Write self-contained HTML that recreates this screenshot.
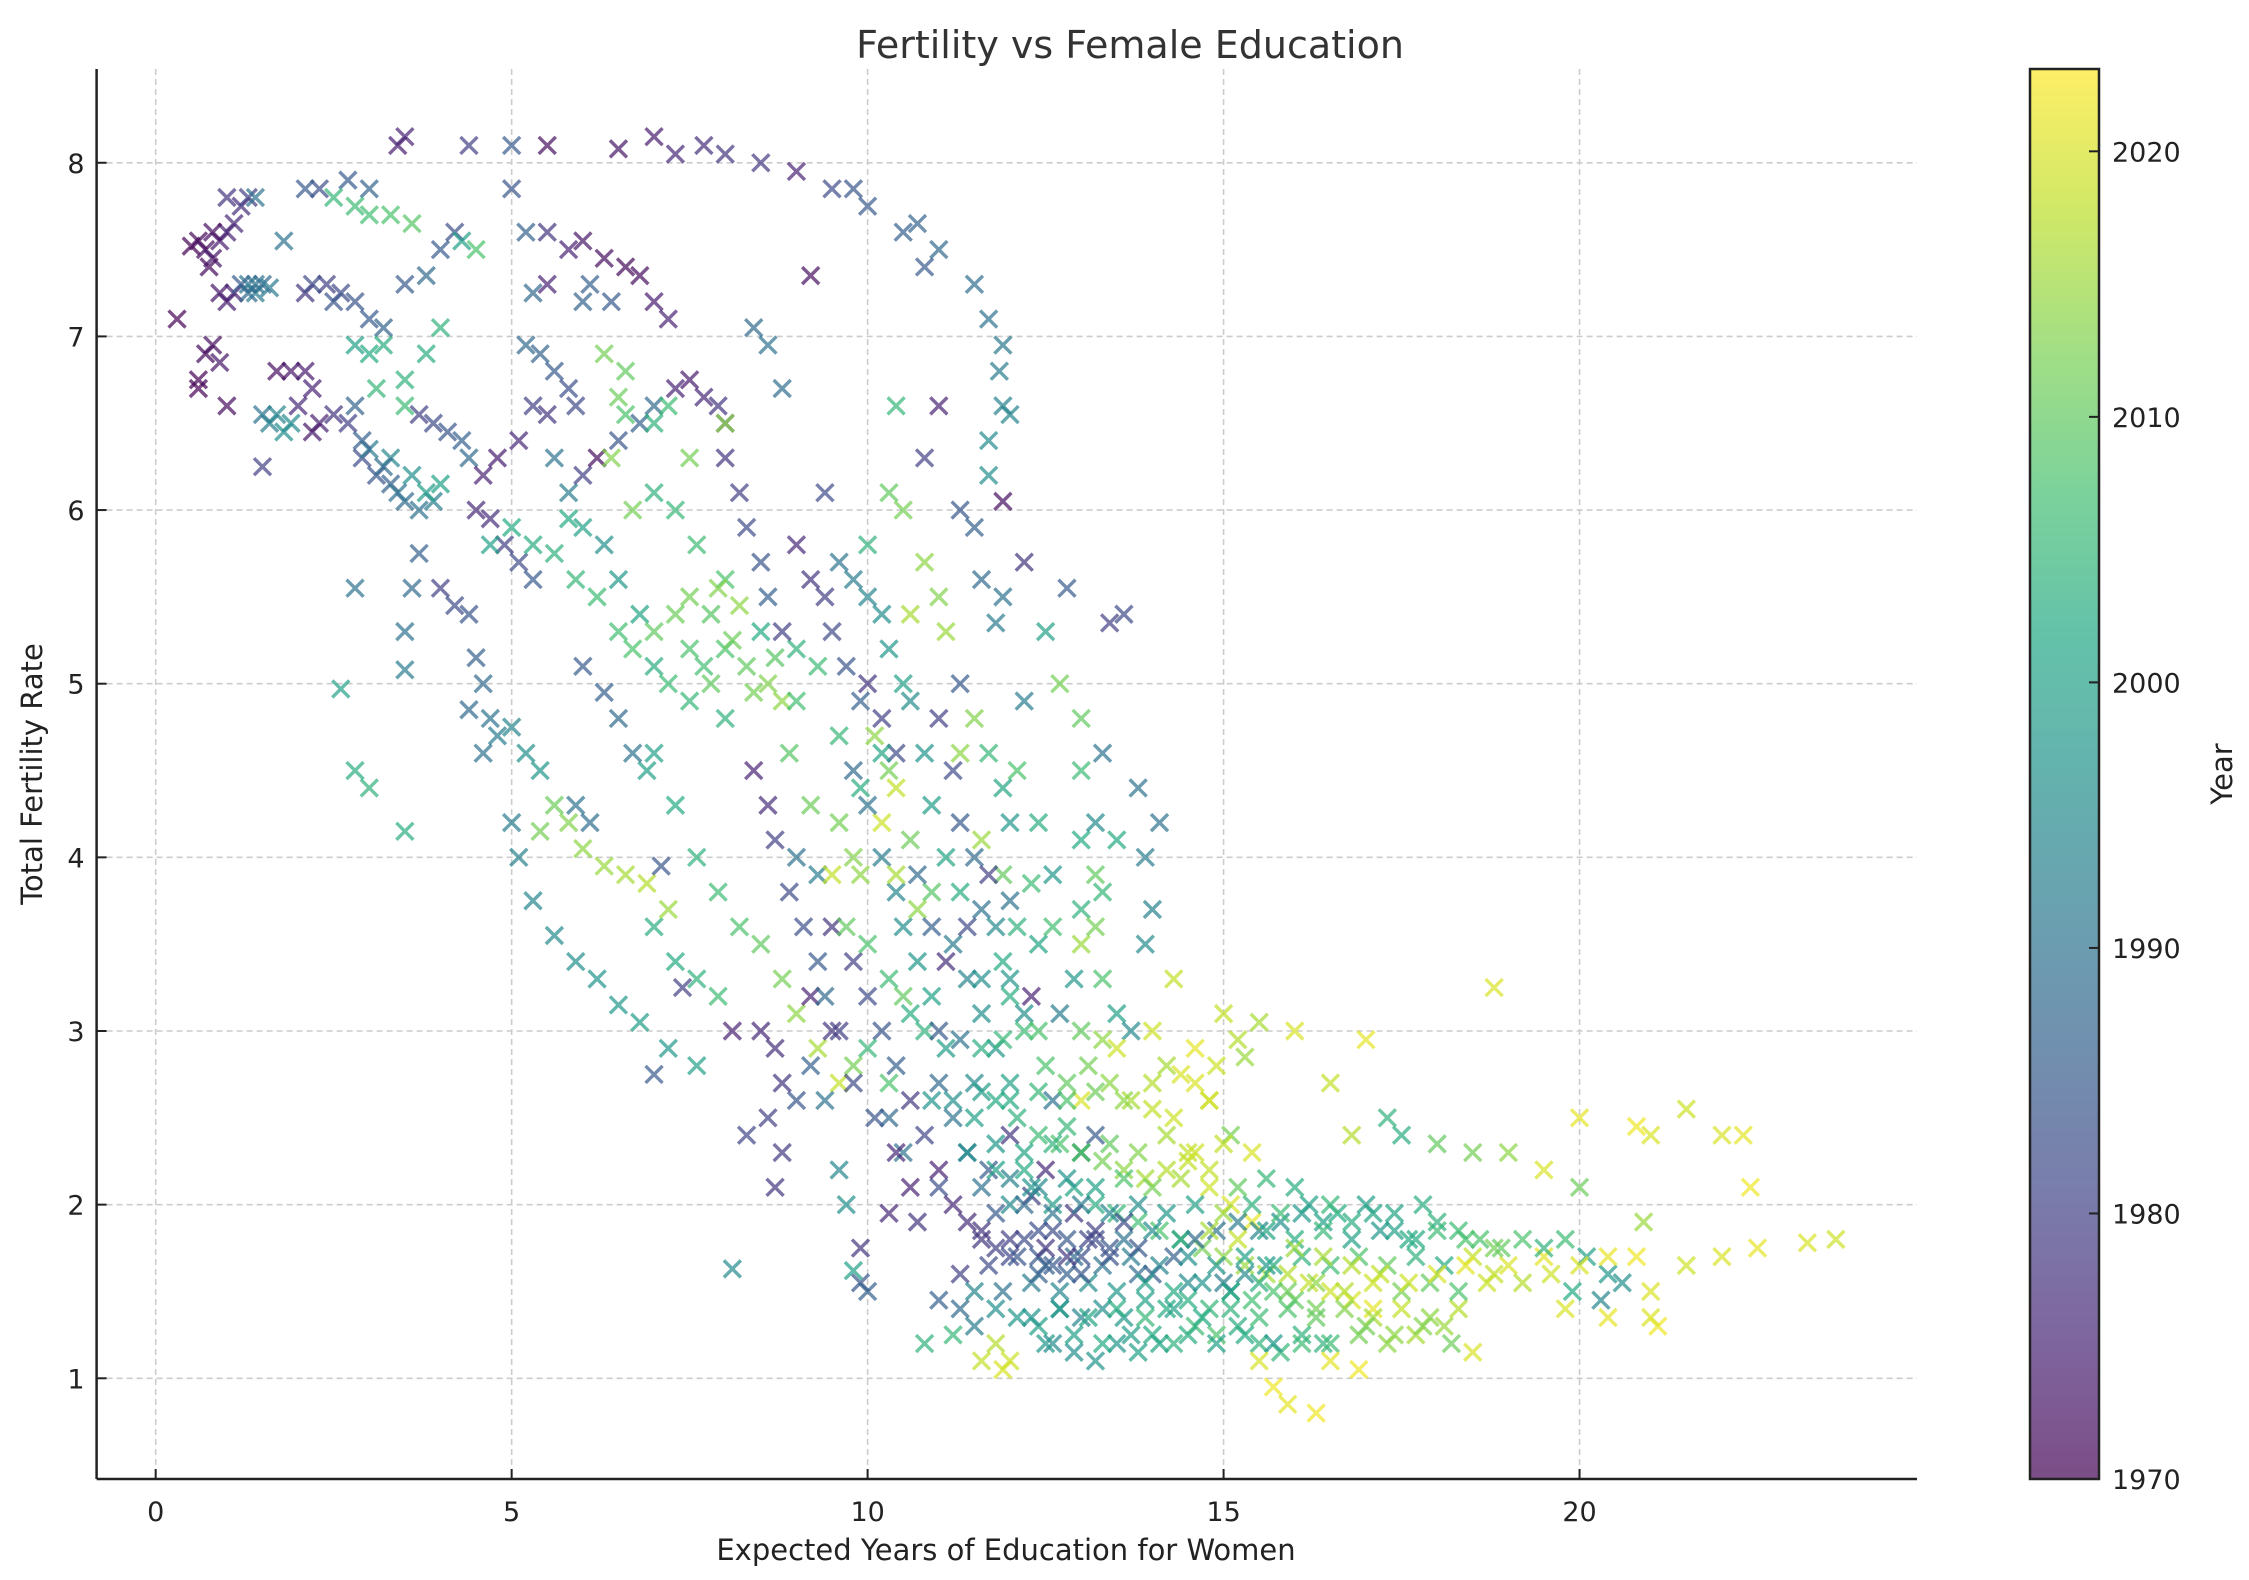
<!DOCTYPE html>
<html><head><meta charset="utf-8">
<style>
html,body{margin:0;padding:0;background:#fff;}
svg{display:block;font-family:"DejaVu Sans","Liberation Sans",sans-serif;}
</style></head>
<body>
<svg id="chart" width="2249" height="1580" viewBox="0 0 2249 1580" xmlns="http://www.w3.org/2000/svg">
<defs>
<linearGradient id="viridis" x1="0" y1="1" x2="0" y2="0">
<stop offset="0" stop-color="#440154"/><stop offset="0.1" stop-color="#482475"/><stop offset="0.2" stop-color="#414487"/><stop offset="0.3" stop-color="#355f8d"/><stop offset="0.4" stop-color="#2a788e"/><stop offset="0.5" stop-color="#21918c"/><stop offset="0.6" stop-color="#22a884"/><stop offset="0.7" stop-color="#44bf70"/><stop offset="0.8" stop-color="#7ad151"/><stop offset="0.9" stop-color="#bddf26"/><stop offset="1" stop-color="#fde725"/>
</linearGradient>
</defs>
<rect width="2249" height="1580" fill="#fff"/>
<g id="grid"></g>
<g id="marks"></g>
<g id="axes"></g>
<text x="1130" y="58" font-size="38" text-anchor="middle" fill="#333">Fertility vs Female Education</text>
<text x="1006" y="1560" font-size="29" text-anchor="middle" fill="#222">Expected Years of Education for Women</text>
<text x="0" y="0" font-size="29" text-anchor="middle" fill="#222" transform="translate(42,774) rotate(-90)">Total Fertility Rate</text>
<g id="colorbar">
<rect x="2030" y="69" width="69" height="1410" fill="url(#viridis)" fill-opacity="0.7" stroke="#222" stroke-width="2.5"/>
</g>
<text x="0" y="0" font-size="29" text-anchor="middle" fill="#222" transform="translate(2232,774) rotate(-90)">Year</text>
</svg>
<script>
const xTicks = [0, 5, 10, 15, 20];
const yTicks = [1, 2, 3, 4, 5, 6, 7, 8];
const yearTicks = [1970, 1980, 1990, 2000, 2010, 2020];

const upperLeftPoints = [
[0.5,7.52,1970],[0.6,7.55,1971],[0.7,7.5,1972],[0.8,7.45,1973],[0.9,7.55,1974],[1.0,7.6,1975],[1.1,7.65,1976],[1.2,7.75,1977],[1.3,7.8,1980],[1.0,7.8,1978],[0.8,7.6,1972],[0.75,7.4,1971],
[0.3,7.1,1970],[0.9,7.25,1973],[1.0,7.2,1974],[1.1,7.25,1975],[1.2,7.3,1985],[1.3,7.3,1990],[1.4,7.25,1992],[1.5,7.3,1988],[1.4,7.8,1990],
[0.6,6.75,1970],[0.7,6.9,1971],[0.8,6.95,1972],[0.9,6.85,1973],[1.0,6.6,1972],[0.6,6.7,1970],
[1.7,6.8,1972],[1.9,6.8,1973],[2.1,6.8,1974],[2.2,6.7,1975],[2.0,6.6,1976],[2.3,6.5,1975],[2.2,6.45,1973],
[1.5,6.55,1990],[1.6,6.5,1992],[1.7,6.55,1994],[1.8,6.45,1996],[1.5,6.25,1980],
[2.1,7.25,1978],[2.4,7.3,1980],[2.6,7.25,1982],[2.8,7.2,1984],[3.0,7.1,1985],[3.2,7.05,1987],[3.5,7.3,1985],[3.8,7.35,1988],
[2.3,7.85,1983],[2.7,7.9,1985],[3.0,7.85,1987],[1.8,7.55,1990],[2.1,7.85,1985],
[2.5,7.8,2005],[2.8,7.75,2006],[3.0,7.7,2007],[3.3,7.7,2008],[3.6,7.65,2009],[2.8,6.95,2000],[3.0,6.9,2002],[3.2,6.95,2003],[3.5,6.75,2004],[3.1,6.7,2005],[3.5,6.6,2006],[3.8,6.9,2003],[4.0,7.05,2004],
[2.5,6.55,1978],[2.7,6.5,1980],[2.9,6.3,1982],[3.1,6.2,1984],[3.3,6.15,1986],[3.5,6.05,1988],[3.7,6.0,1990],[3.9,6.05,1992],
[2.8,6.6,1987],[3.0,6.35,1992],[3.3,6.3,1994],[3.6,6.2,1996],[4.0,6.15,2000],[3.8,6.1,1999],
[3.7,6.55,1980],[3.9,6.5,1982],[4.1,6.45,1984],[4.3,6.4,1986],[4.4,6.3,1988],
[4.2,7.6,1983],[4.0,7.5,1985],[4.3,7.55,2000],[4.5,7.5,2008],
[2.6,4.97,2000],[2.8,5.55,1990],[2.8,4.5,2003],[3.0,4.4,2004],[3.5,4.15,2003],[3.5,5.3,1990],[3.6,5.55,1988],[3.7,5.75,1986],[3.5,5.08,1992],
[1.3,7.25,1988],[1.4,7.3,1990],[1.6,7.28,1991],[2.2,7.3,1982],[2.5,7.2,1984],[2.9,6.4,1986],[3.2,6.25,1988],[3.4,6.1,1990],[1.9,6.5,1995]
];

const topArcPoints = [
[3.4,8.1,1974],[3.5,8.15,1975],[4.4,8.1,1980],[5.0,8.1,1985],[5.5,8.1,1972],[6.5,8.08,1973],[7.0,8.15,1974],[7.3,8.05,1976],[7.7,8.1,1977],[8.0,8.05,1978],[8.5,8.0,1979],[9.0,7.95,1975],
[9.5,7.85,1982],[9.8,7.85,1984],[10.0,7.75,1985],[10.5,7.6,1986],[10.7,7.65,1987],[11.0,7.5,1988],[10.8,7.4,1985],[11.5,7.3,1989],[11.7,7.1,1990],[11.9,6.95,1991],[11.85,6.8,1992],[11.9,6.6,1993],[12.0,6.55,1994],[11.7,6.4,1995],[11.7,6.2,1996],[11.9,6.05,1972],[11.9,5.5,1990],[12.2,5.7,1978],
[9.2,7.35,1972],[8.4,7.05,1988],[8.6,6.95,1990],[8.8,6.7,1989],[9.4,6.1,1982],
[5.0,7.85,1984],[5.2,7.6,1986],[5.5,7.6,1978],[5.8,7.5,1975],[6.0,7.55,1973],[6.3,7.45,1972],[6.6,7.4,1971],[6.8,7.35,1972],[7.0,7.2,1974],[7.2,7.1,1975],[6.4,7.2,1985],[6.1,7.3,1986],[6.0,7.2,1987],[5.3,7.25,1988],[5.5,7.3,1975]
];

const middlePoints = [
[5.2,6.95,1988],[5.4,6.9,1987],[5.6,6.8,1985],[5.8,6.7,1983],[5.9,6.6,1982],[5.3,6.6,1980],[5.5,6.55,1978],[5.1,6.4,1976],[4.8,6.3,1974],[4.6,6.2,1975],[4.5,6.0,1976],[4.7,5.95,1977],[4.9,5.8,1980],[5.1,5.7,1982],[5.3,5.6,1985],
[5.6,6.3,1990],[5.8,6.1,1992],[6.0,6.2,1980],[6.2,6.3,1972],[6.5,6.4,1984],[6.8,6.5,1986],[7.0,6.6,1988],[7.3,6.7,1975],[7.5,6.75,1974],[7.7,6.65,1976],[7.9,6.6,1978],[8.0,6.5,1980],
[6.6,6.8,2010],[6.3,6.9,2012],[6.5,6.65,2011],[6.4,6.3,2013],[6.7,6.0,2012],[6.6,6.55,2008],[7.2,6.6,2006],[7.0,6.5,2004],
[4.7,5.8,2000],[5.0,5.9,2002],[5.3,5.8,2003],[5.6,5.75,2004],[5.9,5.6,2005],[6.2,5.5,2006],[6.5,5.3,2007],[6.7,5.2,2008],[7.0,5.1,2003],[6.8,5.4,2001],[6.5,5.6,1998],[6.3,5.8,1996],[6.0,5.9,2000],[5.8,5.95,2002],
[4.0,5.55,1980],[4.2,5.45,1982],[4.4,5.4,1984],[4.5,5.15,1986],[4.6,5.0,1988],[4.7,4.8,1990],[4.8,4.7,1992],[5.0,4.75,1994],[5.2,4.6,1996],[5.4,4.5,1998],[5.6,4.3,2011],[5.8,4.2,2013],[6.0,4.05,2014],[6.3,3.95,2015],[6.6,3.9,2016],[6.9,3.85,2017],[5.4,4.15,2012],
[4.4,4.85,1988],[4.6,4.6,1990],[5.0,4.2,1992],[5.1,4.0,1993],[5.3,3.75,1994],[5.6,3.55,1995],[5.9,3.4,1996],[6.2,3.3,1997],[6.5,3.15,1998],[6.8,3.05,1999],
[5.9,4.3,1990],[6.1,4.2,1989],[6.0,5.1,1985],[6.3,4.95,1986],[6.5,4.8,1988],[6.7,4.6,1990],[6.9,4.5,2000],
[7.0,5.3,2010],[7.3,5.4,2011],[7.5,5.5,2012],[7.8,5.4,2009],[8.0,5.2,2008],[8.3,5.1,2010],[8.6,5.0,2013],[8.8,4.9,2014],[7.7,5.1,2007],[7.2,5.0,2006],[7.5,4.9,2005],[8.0,4.8,2004],[8.5,5.3,2002],[9.0,5.2,2004],[8.0,5.6,2008],[7.6,5.8,2006],[7.3,6.0,2005],[7.0,6.1,2004],[7.5,6.3,2012],[8.0,6.5,2014],
[7.0,4.6,2000],[7.3,4.3,2002],[7.6,4.0,2004],[7.9,3.8,2006],[8.2,3.6,2008],[8.5,3.5,2010],[8.8,3.3,2012],[9.0,3.1,2014],[9.3,2.9,2016],[9.6,2.7,2018],
[7.0,3.6,2003],[7.3,3.4,2002],[7.6,3.3,2004],[7.9,3.2,2006],[7.2,2.9,1998],[7.6,2.8,2000],[7.1,3.95,1984],[7.2,3.7,2015],[7.0,2.75,1985],[7.4,3.25,1980],[8.1,1.63,1995],
[8.1,3.0,1975],[8.5,3.0,1976],[8.7,2.9,1977],[8.8,2.7,1978],[8.6,2.5,1980],[8.8,2.3,1979],[8.7,2.1,1978],[8.3,2.4,1981],[9.0,2.6,1984],[9.2,3.2,1975],[9.5,3.0,1978],[9.4,2.6,1990],[9.6,2.2,1994],[9.7,2.0,1996]
];

const centerPoints = [
[8.0,6.3,1978],[8.2,6.1,1980],[8.3,5.9,1982],[8.5,5.7,1984],[8.6,5.5,1986],[8.8,5.3,1980],[9.0,5.8,1976],[9.2,5.6,1978],[9.4,5.5,1980],[9.5,5.3,1982],[9.7,5.1,1984],[9.9,4.9,1986],[10.0,5.0,1978],[10.2,4.8,1980],[10.4,4.6,1982],
[8.4,4.5,1975],[8.6,4.3,1977],[8.7,4.1,1980],[8.9,3.8,1982],[9.1,3.6,1983],[9.3,3.4,1985],[9.0,4.0,1990],[9.3,3.9,1992],[9.6,4.2,2012],[9.8,4.0,2013],[9.9,3.9,2014],
[9.6,5.7,1990],[9.8,5.6,1992],[10.0,5.5,1994],[10.2,5.4,1996],[10.3,5.2,1998],[10.5,5.0,2000],[10.0,5.8,2004],[10.3,6.1,2010],[10.5,6.0,2012],[10.8,5.7,2014],[11.0,5.5,2013],[11.1,5.3,2015],[10.6,5.4,2016],[10.4,4.4,2018],[10.2,4.2,2019],
[10.4,6.6,2005],[11.0,6.6,1975],[10.8,6.3,1980],[11.3,6.0,1984],[11.5,5.9,1986],[11.6,5.6,1988],[11.8,5.35,1992],
[9.8,4.5,1988],[10.0,4.3,1990],[10.2,4.0,1992],[10.4,3.8,1994],[10.5,3.6,1996],[10.7,3.4,1998],[10.9,3.2,2000],
[9.5,3.6,1978],[9.8,3.4,1980],[10.0,3.2,1982],[10.2,3.0,1984],[10.4,2.8,1986],[10.3,2.5,1988],[10.5,2.3,1990],[10.6,2.1,1975],[10.7,1.9,1978],[10.3,1.95,1976],[9.9,1.55,1984],[10.0,1.5,1986],[9.9,1.75,1978],[9.8,1.62,2000],
[11.0,4.8,1980],[11.2,4.5,1982],[11.3,4.2,1985],[11.5,4.0,1988],[11.6,3.7,1990],[11.2,3.5,1992],[11.4,3.3,1994],[11.6,3.1,1996],[11.8,2.9,1998],[12.0,2.7,2000],[11.3,4.6,2014],[11.6,4.1,2015],[11.9,3.9,2010],[12.1,4.5,2008],[12.2,4.9,1992],[12.4,4.2,2003],[12.5,5.3,2000],[12.7,5.0,2012],[13.0,4.8,2010],[13.0,4.5,2006],[13.3,4.6,1990],[13.2,4.2,1995],[13.5,4.1,2002],[13.3,3.8,2005],[13.0,3.7,2004],[12.8,5.55,1985],[13.4,5.35,1980],[13.6,5.4,1982],[13.8,4.4,1990],[13.9,4.0,1992],[14.1,4.2,1990],[14.0,3.7,1993],[13.9,3.5,1995],[14.3,3.3,2018],
[11.0,2.7,1988],[11.2,2.5,1990],[11.4,2.3,1992],[11.7,2.2,1985],[11.5,2.7,1995],[11.9,3.4,2002],[12.1,3.6,2004],[12.4,3.5,2001],
[10.0,2.9,2005],[10.3,2.7,2008],[9.8,2.8,2012],[10.5,3.2,2010],[10.8,3.0,2004],[10.9,2.6,1997],[11.1,2.9,1999],
[10.6,4.9,1995],[10.8,4.6,1997],[10.9,4.3,1999],[11.1,4.0,2001],[11.3,3.8,2003],[10.9,3.8,2009],[10.6,4.1,2011],[10.3,4.5,2012],[10.1,4.7,2014],
[11.3,5.0,1985],[11.5,4.8,2013],[11.7,4.6,2005],[11.9,4.4,2001],[12.0,4.2,1998],[11.8,3.6,1995],[12.0,3.3,1998],[12.2,3.1,1996],
[7.5,5.2,2008],[7.8,5.0,2010],[8.1,5.25,2011],[8.4,4.95,2012],[8.7,5.15,2009],[9.0,4.9,2007],[9.3,5.1,2006],[7.9,5.55,2013],[8.2,5.45,2014],[9.6,4.7,2005],[9.9,4.4,2003],[10.2,4.6,2001],[10.4,3.9,2016],[10.7,3.7,2014],[9.5,3.9,2018],[9.7,3.6,2010],[10.0,3.5,2008],[10.3,3.3,2006],[10.6,3.1,2003],[9.2,4.3,2011],[8.9,4.6,2009],
[9.6,3.0,1980],[9.8,2.7,1982],[10.1,2.5,1984],[10.4,2.3,1976],[10.6,2.6,1979],[10.8,2.4,1981],[11.0,2.1,1983],[10.9,3.6,1986],[10.7,3.9,1988],[11.1,3.4,1977],[9.4,3.2,1988],[9.2,2.8,1986]
];

const lowerMassPoints = [
[11.0,2.2,1975],[11.2,2.0,1976],[11.4,1.9,1977],[11.6,1.8,1978],[11.8,1.75,1980],[12.0,1.7,1981],[12.2,1.8,1982],[12.4,1.7,1984],[12.6,1.65,1985],[12.8,1.6,1986],[13.0,1.7,1983],[13.2,1.8,1982],[13.4,1.75,1984],[12.3,2.05,1980],[12.6,1.85,1982],[12.9,1.95,1978],[12.5,2.2,1976],[12.0,2.4,1978],[12.3,3.2,1975],[12.6,2.6,1990],[13.0,2.3,1974],[13.2,2.4,1985],
[11.0,1.45,1986],[11.3,1.4,1988],[11.5,1.3,1992],[10.8,1.2,2004],[11.2,1.25,2005],[11.6,1.1,2018],[11.9,1.05,2020],[12.0,1.1,2019],[11.8,1.2,2017],[11.3,1.6,1980],[12.6,1.2,1995],[12.9,1.15,1996],[13.2,1.1,1997],[13.5,1.2,1998],[13.8,1.15,2000],[14.0,1.25,2002],[14.3,1.2,2004],[14.6,1.3,2006],[14.9,1.25,2008],[15.2,1.3,2003],[15.5,1.2,2004],[15.8,1.15,2005],[16.1,1.2,2006],[16.4,1.2,2004],
[11.5,1.5,1994],[11.8,1.4,1996],[12.1,1.35,1998],[12.4,1.3,2000],[12.7,1.4,1992],[13.0,1.35,1994],[13.3,1.4,1996],[13.6,1.35,1998],[13.9,1.45,2000],[14.2,1.4,2002],[14.5,1.45,2003],[14.8,1.4,2005],[15.1,1.5,2006],[15.4,1.45,2007],[15.7,1.5,2008],[16.0,1.45,2010],[16.3,1.4,2012],
[12.0,2.0,1995],[12.3,2.1,1997],[12.6,2.0,1999],[12.9,2.1,2001],[13.2,2.0,2003],[13.5,1.95,2005],[13.8,1.9,2007],[14.1,1.85,2008],[14.4,1.8,2010],[14.7,1.75,2012],[15.0,1.7,2014],[15.3,1.65,2015],[15.6,1.6,2016],[15.9,1.6,2017],[16.2,1.55,2018],[16.5,1.5,2019],[16.8,1.45,2020],[17.1,1.4,2021],
[11.5,2.5,2000],[11.8,2.6,2002],[12.1,2.5,2004],[12.4,2.4,2006],[12.7,2.35,2008],[13.0,2.3,2010],[13.3,2.25,2012],[13.6,2.2,2014],[13.9,2.15,2016],[14.2,2.2,2017],[14.5,2.25,2018],[14.8,2.1,2019],[15.1,2.0,2020],[15.4,1.9,2021],
[11.6,2.9,2003],[11.9,2.95,2005],[12.2,3.0,2006],[12.5,2.8,2008],[12.8,2.7,2010],[13.1,2.8,2012],[13.4,2.7,2014],[13.7,2.6,2016],[14.0,2.55,2018],[14.3,2.5,2019],[14.6,2.7,2020],[14.9,2.8,2019],[15.2,2.95,2017],[15.5,3.05,2016],[15.3,2.85,2015],[15.0,3.1,2018],[14.6,2.9,2021],[14.0,3.0,2019],
[13.0,3.5,2015],[13.3,3.3,2008],[13.5,3.1,2000],[13.7,3.0,1995],[13.2,3.9,2010],[13.0,4.1,2002],[12.6,3.6,2007],[12.9,3.3,1998],
[14.0,1.6,1985],[14.3,1.7,1986],[14.6,1.8,1988],[14.9,1.85,1990],[15.2,1.9,1992],[15.5,1.85,1994],[15.8,1.9,1996],[16.1,1.95,1998],[16.4,1.9,2000],[15.0,1.55,1992],[15.3,1.6,1995],[15.6,1.65,1998],[14.5,1.55,1995],[13.8,1.6,1988],
[14.5,2.3,2018],[14.2,2.8,2016],[14.8,2.6,2014],[15.1,2.4,2012],[13.5,2.9,2019],[13.0,2.6,2020],[12.8,2.45,2005],[12.2,2.2,2002],[11.8,2.2,2000]
];

const denseLowPoints = [
[12.5,1.2,1998],[12.9,1.25,2000],[13.3,1.2,2002],[13.7,1.25,1999],[14.1,1.2,2001],[14.5,1.25,2003],[14.9,1.2,2000],[15.3,1.25,2002],[15.7,1.2,1998],[16.1,1.25,2004],[16.5,1.2,2006],[16.9,1.25,2012],[17.3,1.2,2014],[17.7,1.25,2016],[18.1,1.3,2015],
[12.3,1.35,1997],[12.7,1.4,1999],[13.1,1.35,2001],[13.5,1.4,2003],[13.9,1.35,2005],[14.3,1.4,2000],[14.7,1.35,2002],[15.1,1.4,2004],[15.5,1.35,2006],[15.9,1.4,2008],[16.3,1.35,2010],[16.7,1.4,2013],[17.1,1.35,2016],[17.5,1.4,2018],[17.9,1.35,2014],[18.3,1.4,2017],
[11.9,1.5,1990],[12.3,1.55,1992],[12.7,1.5,1994],[13.1,1.55,1996],[13.5,1.5,1998],[13.9,1.55,2000],[14.3,1.5,2002],[14.7,1.55,1997],[15.1,1.5,1999],[15.5,1.55,2003],[15.9,1.5,2011],[16.3,1.55,2014],[16.7,1.5,2017],[17.1,1.55,2019],[17.5,1.5,2012],[17.9,1.55,2010],[18.3,1.5,2008],[18.7,1.55,2019],
[11.7,1.65,1982],[12.1,1.7,1984],[12.5,1.65,1986],[12.9,1.7,1988],[13.3,1.65,1990],[13.7,1.7,1992],[14.1,1.65,1994],[14.5,1.7,1996],[14.9,1.65,1998],[15.3,1.7,2000],[15.7,1.65,2002],[16.1,1.7,2004],[16.5,1.65,2006],[16.9,1.7,2008],[17.3,1.65,2010],[17.7,1.7,2004],[18.1,1.65,2002],[18.5,1.7,2018],[19.0,1.65,2020],[19.5,1.7,2021],
[11.6,1.85,1978],[12.0,1.8,1980],[12.4,1.85,1983],[12.8,1.8,1985],[13.2,1.85,1980],[13.6,1.8,1990],[14.0,1.85,1995],[14.4,1.8,2000],[14.8,1.85,2016],[15.2,1.8,2018],[15.6,1.85,2001],[16.0,1.8,2003],[16.4,1.85,2005],[16.8,1.8,2000],[17.2,1.85,1998],[17.6,1.8,2002],[18.0,1.85,2006],[18.4,1.8,2008],[18.8,1.75,2012],
[11.8,1.95,1985],[12.2,2.0,1988],[12.6,1.95,1990],[13.0,2.0,1992],[13.4,1.95,1994],[13.8,2.0,1996],[14.2,1.95,1998],[14.6,2.0,2000],[15.0,1.95,2015],[15.4,2.0,2004],[15.8,1.95,2006],[16.2,2.0,2000],[16.6,1.95,2002],[17.0,2.0,1999],[17.4,1.95,2001],[17.8,2.0,2003],
[11.6,2.1,1990],[12.0,2.15,1993],[12.4,2.1,1995],[12.8,2.15,1997],[13.2,2.1,2000],[13.6,2.15,2008],[14.0,2.1,2012],[14.4,2.15,2016],[14.8,2.2,2018],[15.2,2.1,2010],[15.6,2.15,2005],[16.0,2.1,2003],
[11.4,2.3,1995],[11.8,2.35,1998],[12.2,2.3,2001],[12.6,2.35,2004],[13.0,2.3,2007],[13.4,2.35,2010],[13.8,2.3,2013],[14.2,2.4,2016],[14.6,2.3,2019],[15.0,2.35,2018],[15.4,2.3,2020],
[11.2,2.6,1996],[11.6,2.65,1999],[12.0,2.6,2002],[12.4,2.65,2005],[12.8,2.6,2008],[13.2,2.65,2011],[13.6,2.6,2014],[14.0,2.7,2017],[14.4,2.75,2020],[14.8,2.6,2021],
[11.0,3.0,1985],[11.3,2.95,1990],[11.6,3.3,1996],[12.0,3.2,2003],[12.4,3.0,2008],[12.7,3.1,1992],[13.0,3.0,2010],[13.3,2.95,2014],[11.4,3.6,1982],[11.7,3.9,1980],[12.0,3.75,1990],[12.3,3.85,2006],[12.6,3.9,1998],[13.2,3.6,2012],
[12.5,1.75,1978],[12.8,1.7,1979],[13.1,1.8,1981],[13.4,1.7,1983],[13.0,1.6,1984],[12.4,1.6,1986],[13.6,1.9,1982],[13.8,1.75,1984]
];

const rightTailPoints = [
[16.0,3.0,2020],[16.5,2.7,2018],[16.8,2.4,2017],[17.0,2.95,2021],[17.3,2.5,2004],[17.5,2.4,2003],[18.0,2.35,2010],[18.5,2.3,2012],[18.8,3.25,2020],[19.0,2.3,2014],[19.5,2.2,2020],[20.0,2.1,2011],[20.0,2.5,2021],[20.8,2.45,2022],[21.0,2.4,2020],[21.5,2.55,2019],[22.0,2.4,2020],[22.3,2.4,2021],[22.4,2.1,2022],
[16.5,2.0,2005],[16.8,1.9,2003],[17.1,1.95,2001],[17.4,1.85,2000],[17.7,1.8,2002],[18.0,1.9,2004],[18.3,1.85,2006],[18.6,1.8,2008],[18.9,1.75,2010],[19.2,1.8,2008],[19.5,1.75,2004],[19.8,1.8,2006],[20.1,1.7,2000],[20.4,1.6,1998],[20.6,1.55,1996],[20.3,1.45,1994],[19.9,1.5,2002],
[16.0,1.75,2015],[16.4,1.7,2016],[16.8,1.65,2017],[17.2,1.6,2018],[17.6,1.55,2019],[18.0,1.6,2020],[18.4,1.65,2021],[18.8,1.6,2018],[19.2,1.55,2017],[19.6,1.6,2019],[20.0,1.65,2020],[20.4,1.7,2021],[20.8,1.7,2022],[21.0,1.5,2020],[21.5,1.65,2019],[22.0,1.7,2020],[22.5,1.75,2021],[23.2,1.78,2020],[23.6,1.8,2019],
[17.0,1.3,2012],[17.4,1.25,2014],[17.8,1.3,2013],[18.2,1.2,2011],[18.5,1.15,2020],[16.5,1.1,2021],[16.9,1.05,2022],[15.7,0.95,2022],[15.9,0.85,2021],[16.3,0.8,2022],[15.5,1.1,2020],[19.8,1.4,2020],[20.4,1.35,2021],[21.1,1.3,2022],[20.9,1.9,2015],[21.0,1.35,2020]
];

const allGroups = [upperLeftPoints, topArcPoints, middlePoints, centerPoints, lowerMassPoints, denseLowPoints, rightTailPoints];

const NS = 'http://www.w3.org/2000/svg';
const plotLeft = 96.6, plotRight = 1917, plotTop = 69, plotBottom = 1479;
const xMin = -0.83, xMax = 24.74, yMin = 0.42, yMax = 8.54;
const cbTop = 69, cbBottom = 1479, yearMin = 1970, yearMax = 2023.1;
function sx(v){ return plotLeft + (v - xMin) / (xMax - xMin) * (plotRight - plotLeft); }
function sy(v){ return plotBottom - (v - yMin) / (yMax - yMin) * (plotBottom - plotTop); }
function cy(v){ return cbBottom - (v - yearMin) / (yearMax - yearMin) * (cbBottom - cbTop); }

const vir = ['#440154','#482475','#414487','#355f8d','#2a788e','#21918c','#22a884','#44bf70','#7ad151','#bddf26','#fde725'];
function hex(h){ return [parseInt(h.substr(1,2),16),parseInt(h.substr(3,2),16),parseInt(h.substr(5,2),16)]; }
function viridis(t){
  t = Math.max(0, Math.min(1, t));
  const p = t * 10, i = Math.min(9, Math.floor(p)), f = p - i;
  const a = hex(vir[i]), b = hex(vir[i+1]);
  return 'rgb(' + a.map((c,k)=>Math.round(c + (b[k]-c)*f)).join(',') + ')';
}
function mk(tag, attrs, parent){
  const e = document.createElementNS(NS, tag);
  for (const k in attrs) e.setAttribute(k, attrs[k]);
  parent.appendChild(e);
  return e;
}

const grid = document.getElementById('grid');
const axes = document.getElementById('axes');
const marks = document.getElementById('marks');
const cb = document.getElementById('colorbar');

xTicks.forEach(v => {
  const x = sx(v);
  const g = mk('line', {x1:x, x2:x, y1:plotTop, y2:plotBottom, stroke:'#cccccc', 'stroke-width':1.6, 'stroke-dasharray':'6,4'}, grid);
  
  
  const t = mk('line', {x1:x, x2:x, y1:plotBottom, y2:plotBottom-10, stroke:'#222', 'stroke-width':2}, axes);
  
  
  const l = mk('text', {x:x, y:plotBottom+42, 'font-size':27, 'text-anchor':'middle', fill:'#222'}, axes);
  l.textContent = v;
  
  
});
yTicks.forEach(v => {
  const y = sy(v);
  const g = mk('line', {x1:plotLeft, x2:plotRight, y1:y, y2:y, stroke:'#cccccc', 'stroke-width':1.6, 'stroke-dasharray':'6,4'}, grid);
  
  
  const t = mk('line', {x1:plotLeft, x2:plotLeft+10, y1:y, y2:y, stroke:'#222', 'stroke-width':2}, axes);
  
  
  const l = mk('text', {x:plotLeft-12, y:y+10, 'font-size':27, 'text-anchor':'end', fill:'#222'}, axes);
  l.textContent = v;
  
  
});
const sl = mk('line', {x1:plotLeft, x2:plotLeft, y1:plotTop, y2:plotBottom, stroke:'#222', 'stroke-width':2.5}, axes);


const sb = mk('line', {x1:plotLeft, x2:plotRight, y1:plotBottom, y2:plotBottom, stroke:'#222', 'stroke-width':2.5}, axes);



const h = 8.5;
allGroups.forEach(group => {
  group.forEach(p => {
    const x = sx(p[0]), y = sy(p[1]);
    const col = viridis((p[2] - yearMin) / (yearMax - yearMin));
    const m = mk('path', {d:'M'+(x-h)+','+(y-h)+'L'+(x+h)+','+(y+h)+'M'+(x-h)+','+(y+h)+'L'+(x+h)+','+(y-h), stroke:col, 'stroke-width':3.4, 'stroke-opacity':0.7, fill:'none'}, marks);
    
    
  });
});

yearTicks.forEach(v => {
  const y = cy(v);
  const t = mk('line', {x1:2099, x2:2089, y1:y, y2:y, stroke:'#222', 'stroke-width':2}, cb);
  
  
  const l = mk('text', {x:2112, y:y+10, 'font-size':27, fill:'#222'}, cb);
  l.textContent = v;
  
  
});
</script>
</body></html>
